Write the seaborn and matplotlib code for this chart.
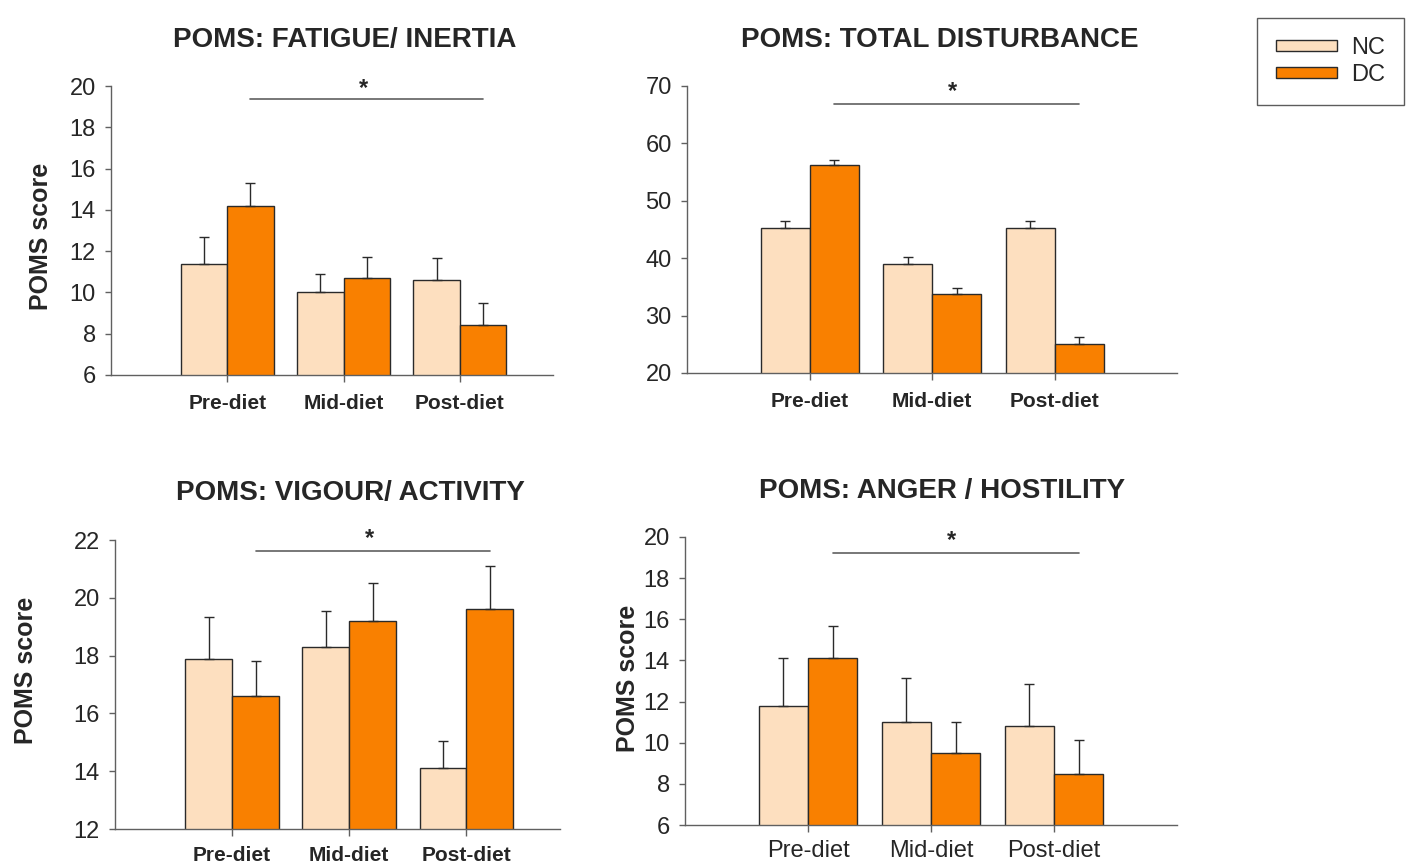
import pandas as pd
import seaborn as sns
import matplotlib.pyplot as plt
from matplotlib.patches import Patch

# Values (means and upward SE bars)
phases = ["Pre-diet", "Mid-diet", "Post-diet"]
groups = ["NC", "DC"]

fatigue_nc = [11.4, 10.0, 10.6]
fatigue_dc = [14.2, 10.7, 8.4]
fatigue_nc_se = [1.3, 0.9, 1.05]
fatigue_dc_se = [1.1, 1.0, 1.1]

total_nc = [45.2, 39.0, 45.2]
total_dc = [56.2, 33.7, 25.1]
total_nc_se = [1.3, 1.2, 1.3]
total_dc_se = [0.9, 1.1, 1.2]

vigour_nc = [17.9, 18.3, 14.1]
vigour_dc = [16.6, 19.2, 19.6]
vigour_nc_se = [1.45, 1.25, 0.95]
vigour_dc_se = [1.2, 1.3, 1.5]

anger_nc = [11.8, 11.0, 10.8]
anger_dc = [14.1, 9.5, 8.5]
anger_nc_se = [2.3, 2.15, 2.05]
anger_dc_se = [1.55, 1.5, 1.65]

nc_color = "#FDDFBF"
dc_color = "#F98000"

sns.set_style("white")
plt.rcParams["font.family"] = ["Liberation Sans", "DejaVu Sans"]

fig = plt.figure(figsize=(14.13, 8.65), dpi=100)

panels = [
    dict(title="POMS: FATIGUE/ INERTIA", nc=fatigue_nc, dc=fatigue_dc,
         nc_se=fatigue_nc_se, dc_se=fatigue_dc_se, ylim=(6, 20), step=2,
         rect=[0.0785, 0.5665, 0.3128, 0.334], xlim=(-1.0, 2.8),
         sig=19.35, star=19.9, ylabel=True, bold=True, xsize=15, xpad=9,
         ttl=(345, 40), lab=(-0.131, 0.48)),
    dict(title="POMS: TOTAL DISTURBANCE", nc=total_nc, dc=total_dc,
         nc_se=total_nc_se, dc_se=total_dc_se, ylim=(20, 70), step=10,
         rect=[0.4862, 0.5688, 0.3468, 0.3318], xlim=(-1.0, 3.0),
         sig=66.9, star=69.0, ylabel=False, bold=True, xsize=15, xpad=9,
         ttl=(940, 40), lab=None),
    dict(title="POMS: VIGOUR/ ACTIVITY", nc=vigour_nc, dc=vigour_dc,
         nc_se=vigour_nc_se, dc_se=vigour_dc_se, ylim=(12, 22), step=2,
         rect=[0.0814, 0.0416, 0.315, 0.3341], xlim=(-1.0, 2.8),
         sig=21.63, star=22.05, ylabel=True, bold=True, xsize=15, xpad=7,
         ttl=(350, 493), lab=(-0.173, 0.55)),
    dict(title="POMS: ANGER / HOSTILITY", nc=anger_nc, dc=anger_dc,
         nc_se=anger_nc_se, dc_se=anger_dc_se, ylim=(6, 20), step=2,
         rect=[0.4848, 0.0462, 0.3482, 0.333], xlim=(-1.0, 3.0),
         sig=19.2, star=19.85, ylabel=True, bold=False, xsize=17, xpad=6,
         ttl=(942, 491), lab=(-0.091, 0.51)),
]

W, H = 1413, 865
for p in panels:
    ax = fig.add_axes(p["rect"])
    df = pd.DataFrame({
        "phase": phases * 2,
        "group": ["NC"] * 3 + ["DC"] * 3,
        "score": p["nc"] + p["dc"],
        "se": p["nc_se"] + p["dc_se"],
    })
    sns.barplot(data=df, x="phase", y="score", hue="group", order=phases,
                hue_order=groups, palette=[nc_color, dc_color],
                saturation=1, errorbar=None, edgecolor="#2a2a2a",
                linewidth=1.0, legend=False, ax=ax)
    # upward-only SE bars at the centre of each bar
    for patch, (_, row) in zip(ax.patches, df.iterrows()):
        xc = patch.get_x() + patch.get_width() / 2
        ax.errorbar(xc, row["score"], yerr=[[0], [row["se"]]], fmt="none",
                    ecolor="#2a2a2a", elinewidth=1.0, capsize=3.5,
                    capthick=1.0, zorder=1)
    ax.set_ylim(*p["ylim"])
    ax.set_xlim(*p["xlim"])
    lo, hi = p["ylim"]
    ax.set_yticks(range(lo, hi + 1, p["step"]))
    ax.tick_params(axis="y", labelsize=17, length=4, width=1,
                   color="#606060", direction="out", left=True, pad=7)
    ax.tick_params(axis="x", length=5, width=1, color="#606060",
                   direction="out", bottom=True, pad=p["xpad"],
                   labelsize=p["xsize"])
    for t in ax.get_xticklabels():
        t.set_fontweight("bold" if p["bold"] else "normal")
    ax.set_xlabel("")
    for s in ["top", "right"]:
        ax.spines[s].set_visible(False)
    for s in ["left", "bottom"]:
        ax.spines[s].set_color("#606060")
        ax.spines[s].set_linewidth(1.0)
    if p["ylabel"]:
        ax.set_ylabel("POMS score", fontsize=18, fontweight="bold")
        ax.yaxis.set_label_coords(*p["lab"])
    else:
        ax.set_ylabel("")
    # significance bracket
    ax.plot([0.2, 2.2], [p["sig"], p["sig"]], color="#606060", lw=1.2,
            clip_on=False)
    ax.text(1.17, p["star"], "*", ha="center", va="center", fontsize=17,
            fontweight="bold", clip_on=False)
    fig.text(p["ttl"][0] / W, 1 - p["ttl"][1] / H, p["title"],
             ha="center", va="center", fontsize=20, fontweight="bold")

handles = [Patch(facecolor=nc_color, edgecolor="#2a2a2a", label="NC"),
           Patch(facecolor=dc_color, edgecolor="#2a2a2a", label="DC")]
leg = fig.legend(handles=handles, loc="upper right",
                 bbox_to_anchor=(1404 / W, 1 - 18 / H), fontsize=17,
                 frameon=True, fancybox=False, edgecolor="#333333",
                 handlelength=2.6, handleheight=0.35, labelspacing=0.2,
                 borderpad=0.8, handletextpad=0.6, borderaxespad=0)
leg.get_frame().set_linewidth(1.0)

fig.savefig("out.png", dpi=100)
